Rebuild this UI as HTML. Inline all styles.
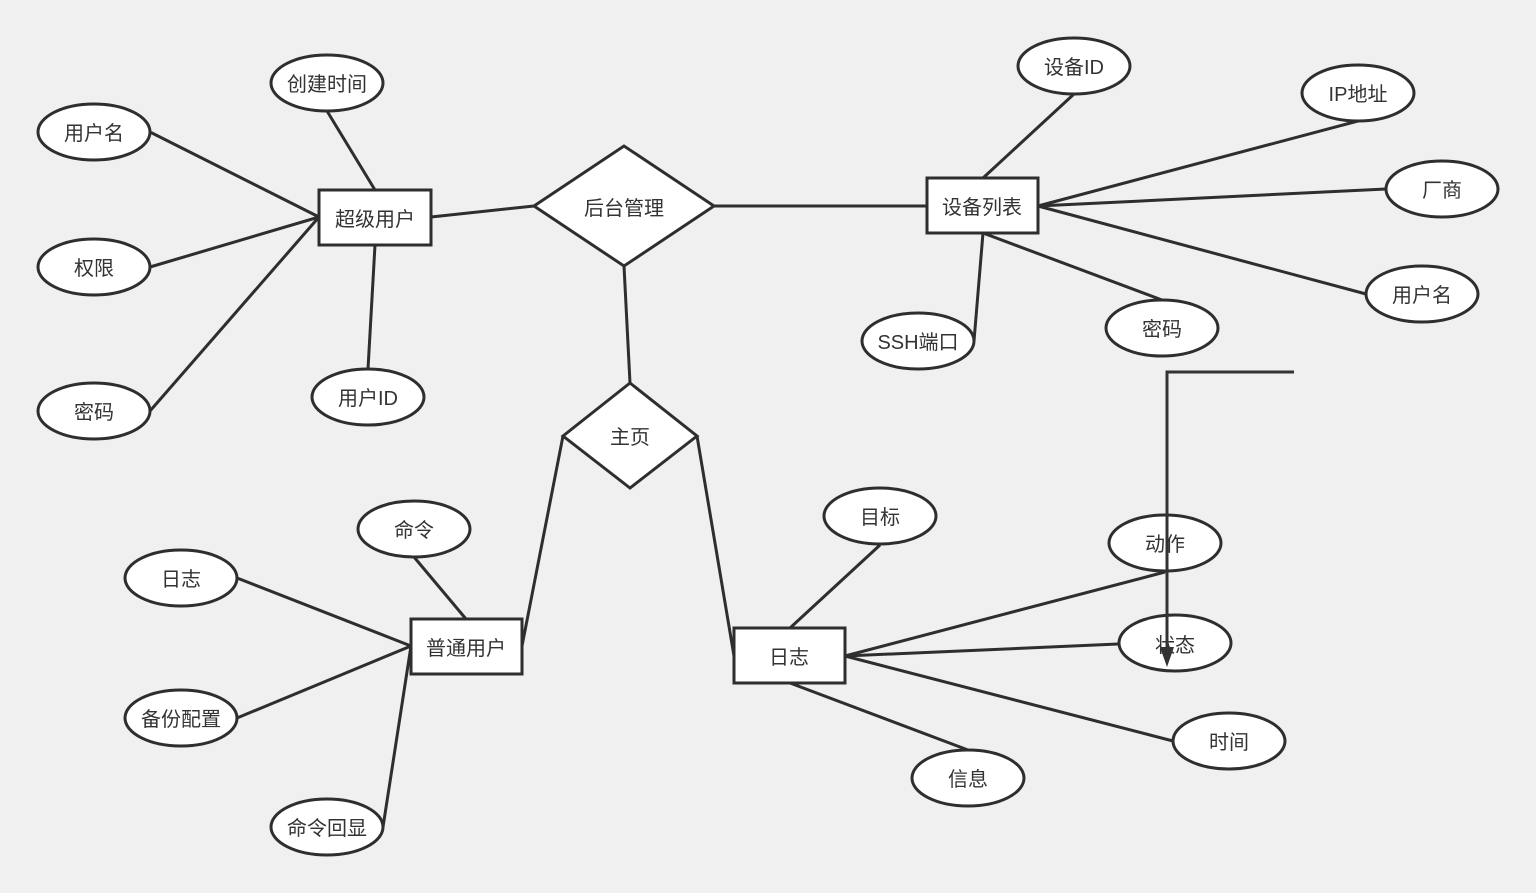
<!DOCTYPE html>
<html><head><meta charset="utf-8"><style>
html,body{margin:0;padding:0;background:#f0f0f0;}
svg{display:block;}
text{font-family:"Liberation Sans","Noto Sans CJK SC",sans-serif;font-size:20px;fill:#333;text-anchor:middle;dominant-baseline:central;}
</style></head><body>
<svg width="1536" height="893" viewBox="0 0 1536 893" xmlns="http://www.w3.org/2000/svg">
<rect width="1536" height="893" fill="#f0f0f0"/>
<g stroke="#2e2e2e" stroke-width="3" fill="none">
<line x1="150" y1="132" x2="319" y2="217"/>
<line x1="150" y1="267" x2="319" y2="217"/>
<line x1="150" y1="411" x2="319" y2="217"/>
<line x1="327" y1="111" x2="375" y2="190"/>
<line x1="368" y1="369" x2="375" y2="245"/>
<line x1="431" y1="217" x2="534" y2="206"/>
<line x1="714" y1="206" x2="927" y2="206"/>
<line x1="624" y1="266" x2="630" y2="383"/>
<line x1="983" y1="178" x2="1074" y2="94"/>
<line x1="1038" y1="206" x2="1358" y2="121"/>
<line x1="1038" y1="206" x2="1386" y2="189"/>
<line x1="1038" y1="206" x2="1366" y2="294"/>
<line x1="983" y1="233" x2="974" y2="341"/>
<line x1="983" y1="233" x2="1162" y2="300"/>
<line x1="563" y1="436" x2="522" y2="646"/>
<line x1="697" y1="436" x2="734" y2="656"/>
<line x1="411" y1="646" x2="237" y2="578"/>
<line x1="411" y1="646" x2="237" y2="718"/>
<line x1="411" y1="646" x2="383" y2="827"/>
<line x1="466" y1="619" x2="414" y2="557"/>
<line x1="845" y1="656" x2="1165" y2="572"/>
<line x1="845" y1="656" x2="1118" y2="644"/>
<line x1="845" y1="656" x2="1173" y2="741"/>
<line x1="790" y1="628" x2="880" y2="545"/>
<line x1="790" y1="683" x2="968" y2="750"/>
</g>
<g stroke="#2e2e2e" stroke-width="3" fill="#fff">
<rect x="319" y="190" width="112" height="55"/>
<rect x="927" y="178" width="111" height="55"/>
<rect x="411" y="619" width="111" height="55"/>
<rect x="734" y="628" width="111" height="55"/>
<polygon points="534,206 624,146 714,206 624,266"/>
<polygon points="563,436 630,383 697,436 630,488"/>
<ellipse cx="327" cy="83" rx="56" ry="28"/>
<ellipse cx="94" cy="132" rx="56" ry="28"/>
<ellipse cx="94" cy="267" rx="56" ry="28"/>
<ellipse cx="94" cy="411" rx="56" ry="28"/>
<ellipse cx="368" cy="397" rx="56" ry="28"/>
<ellipse cx="1074" cy="66" rx="56" ry="28"/>
<ellipse cx="1358" cy="93" rx="56" ry="28"/>
<ellipse cx="1442" cy="189" rx="56" ry="28"/>
<ellipse cx="1422" cy="294" rx="56" ry="28"/>
<ellipse cx="1162" cy="328" rx="56" ry="28"/>
<ellipse cx="918" cy="341" rx="56" ry="28"/>
<ellipse cx="414" cy="529" rx="56" ry="28"/>
<ellipse cx="181" cy="578" rx="56" ry="28"/>
<ellipse cx="181" cy="718" rx="56" ry="28"/>
<ellipse cx="327" cy="827" rx="56" ry="28"/>
<ellipse cx="880" cy="516" rx="56" ry="28"/>
<ellipse cx="1165" cy="543" rx="56" ry="28"/>
<ellipse cx="1175" cy="643" rx="56" ry="28"/>
<ellipse cx="1229" cy="741" rx="56" ry="28"/>
<ellipse cx="968" cy="778" rx="56" ry="28"/>
</g>
<text x="375" y="220">超级用户</text>
<text x="982" y="208">设备列表</text>
<text x="466" y="649">普通用户</text>
<text x="789" y="658">日志</text>
<text x="624" y="209">后台管理</text>
<text x="630" y="438">主页</text>
<text x="327" y="85">创建时间</text>
<text x="94" y="134">用户名</text>
<text x="94" y="269">权限</text>
<text x="94" y="413">密码</text>
<text x="368" y="399">用户ID</text>
<text x="1074" y="68">设备ID</text>
<text x="1358" y="95">IP地址</text>
<text x="1442" y="191">厂商</text>
<text x="1422" y="296">用户名</text>
<text x="1162" y="330">密码</text>
<text x="918" y="343">SSH端口</text>
<text x="414" y="531">命令</text>
<text x="181" y="580">日志</text>
<text x="181" y="720">备份配置</text>
<text x="327" y="829">命令回显</text>
<text x="880" y="518">目标</text>
<text x="1165" y="545">动作</text>
<text x="1175" y="646">状态</text>
<text x="1229" y="743">时间</text>
<text x="968" y="780">信息</text>
<polyline points="1294,372 1167,372 1167,650" stroke="#333" stroke-width="3" fill="none"/>
<polygon points="1160,647 1174,647 1167,667" fill="#333"/>
</svg>
</body></html>
